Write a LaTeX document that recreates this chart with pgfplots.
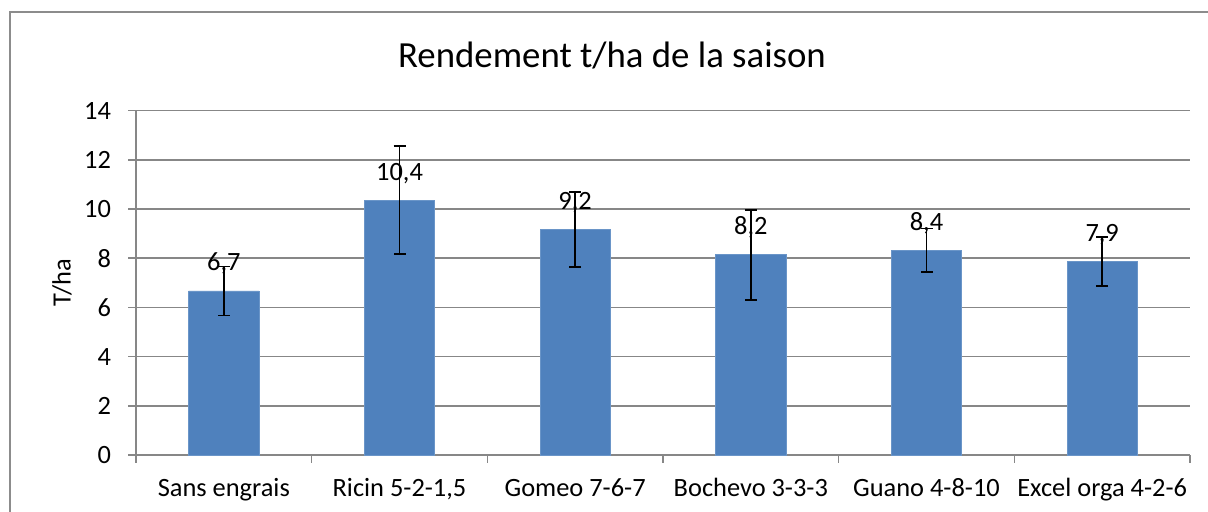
\documentclass[border=0pt]{standalone}
\usepackage{pgfplots}
\pgfplotsset{compat=1.18}
\usepackage{pgfplotstable}
\usepackage{fontspec}
\setmainfont{Carlito}
\definecolor{barblue}{HTML}{4F81BD}
\definecolor{baredge}{HTML}{6A95C8}
\definecolor{gridgray}{HTML}{878787}
\definecolor{framegray}{HTML}{8C8C8C}
\pgfplotstableread{
x y err label
0 6.67 1.00 6,7
1 10.36 2.20 10,4
2 9.17 1.53 9,2
3 8.14 1.83 8,2
4 8.33 0.88 8,4
5 7.87 1.00 7,9
}\datatable
\begin{document}
\begin{tikzpicture}
\path[use as bounding box] (0,0) rectangle (604pt,256pt);
\draw[framegray, line width=1pt] (5pt,0pt) -- (5pt,250pt) -- (604pt,250pt);
\node[anchor=base, font=\fontsize{18.4}{22}\selectfont] at (306pt,222pt) {Rendement t/ha de la saison};
\begin{axis}[
  at={(68pt,28.5pt)}, anchor=south west,
  scale only axis, width=527pt, height=172.2pt,
  xmin=-0.5, xmax=5.5, ymin=0, ymax=14,
  axis x line*=bottom, axis y line*=left,
  axis line style={gridgray, line width=0.75pt, -},
  ytick={0,2,...,14},
  ymajorgrids, major grid style={gridgray, line width=0.75pt},
  xtick={0,1,2,3,4,5},
  xticklabels={Sans engrais, {Ricin 5-2-1,5}, Gomeo 7-6-7, Bochevo 3-3-3, Guano 4-8-10, Excel orga 4-2-6},
  minor xtick={-0.5,0.5,1.5,2.5,3.5,4.5,5.5},
  major x tick style={draw=none},
  tick align=outside,
  major tick length=4pt, minor tick length=4pt,
  tick style={gridgray, line width=0.75pt},
  /pgf/number format/assume math mode=true,
  ticklabel style={font=\fontsize{13.2}{15}\selectfont},
  yticklabel style={anchor=east, xshift=-5pt},
  xticklabel style={anchor=base, yshift=-17pt},
  ylabel={T/ha},
  ylabel style={at={(axis description cs:-0.0702,0.5)}, anchor=center, font=\fontsize{13.2}{15}\selectfont},
  bar width=0.4,
  clip=false,
]
\addplot[ybar, fill=barblue, draw=baredge, line width=0.4pt,
  point meta=explicit symbolic,
  nodes near coords,
  every node near coord/.append style={anchor=base, yshift=10pt, font=\fontsize{13.2}{15}\selectfont, black},
  error bars/.cd, y dir=both, y explicit,
  error bar style={black, line width=0.8pt},
  error mark options={black, line width=0.8pt, mark size=3pt, rotate=90},
] table[x=x, y=y, y error=err, meta=label] {\datatable};
\end{axis}
\end{tikzpicture}
\end{document}
